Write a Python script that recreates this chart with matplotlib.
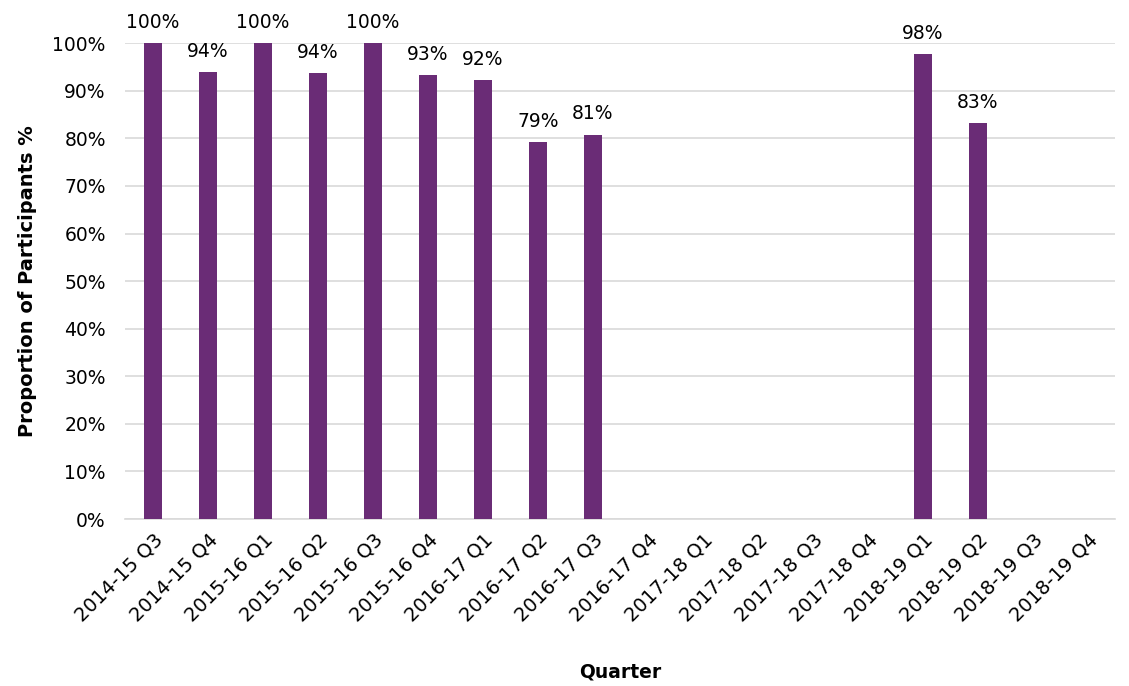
import matplotlib
matplotlib.use("Agg")
import matplotlib.pyplot as plt
from matplotlib.ticker import PercentFormatter, MultipleLocator

plt.rcParams['font.family'] = ['DejaVu Sans']

quarters = ["2014-15 Q3", "2014-15 Q4", "2015-16 Q1", "2015-16 Q2", "2015-16 Q3",
            "2015-16 Q4", "2016-17 Q1", "2016-17 Q2", "2016-17 Q3", "2016-17 Q4",
            "2017-18 Q1", "2017-18 Q2", "2017-18 Q3", "2017-18 Q4", "2018-19 Q1",
            "2018-19 Q2", "2018-19 Q3", "2018-19 Q4"]
# proportion of participants (fraction); None where no data was reported
proportion = [1.00, 0.94, 1.00, 0.937, 1.00, 0.933, 0.922, 0.793, 0.808, None,
              None, None, None, None, 0.978, 0.833, None, None]

bar_color = "#6A2C76"
font_size = 13.5

fig = plt.figure(figsize=(11.29, 6.86), dpi=100)
ax = fig.add_axes([0.111, 0.2434, 0.877, 0.6936])

xs = [i for i, v in enumerate(proportion) if v is not None]
vals = [v for v in proportion if v is not None]
ax.bar(xs, vals, width=0.33, color=bar_color, zorder=3)

for x, v in zip(xs, vals):
    ax.annotate(f"{v:.0%}", (x, v), xytext=(0, 8), textcoords="offset points",
                ha="center", va="bottom", fontsize=font_size, clip_on=False)

ax.set_xlim(-0.5, len(quarters) - 0.5)
ax.set_ylim(0, 1.0)
ax.yaxis.set_major_locator(MultipleLocator(0.1))
ax.yaxis.set_major_formatter(PercentFormatter(1.0, decimals=0))
ax.grid(axis="y", color="#D9D9D9", linewidth=1.2, zorder=0)

ax.set_xticks(range(len(quarters)))
ax.set_xticklabels(quarters, rotation=45, ha="right", rotation_mode="anchor",
                   fontsize=14)
ax.tick_params(axis="y", labelsize=font_size, length=0, pad=14)
ax.tick_params(axis="x", length=0, pad=8)

for side in ("top", "right", "left"):
    ax.spines[side].set_visible(False)
ax.spines["bottom"].set_color("#D9D9D9")
ax.spines["bottom"].set_linewidth(1.2)

ax.set_ylabel("Proportion of Participants %", fontsize=14, fontweight="bold",
              labelpad=11)
fig.text(0.549, 0.006, "Quarter", ha="center", va="bottom", fontsize=13.5,
         fontweight="bold")

fig.savefig("out.png", dpi=100)
